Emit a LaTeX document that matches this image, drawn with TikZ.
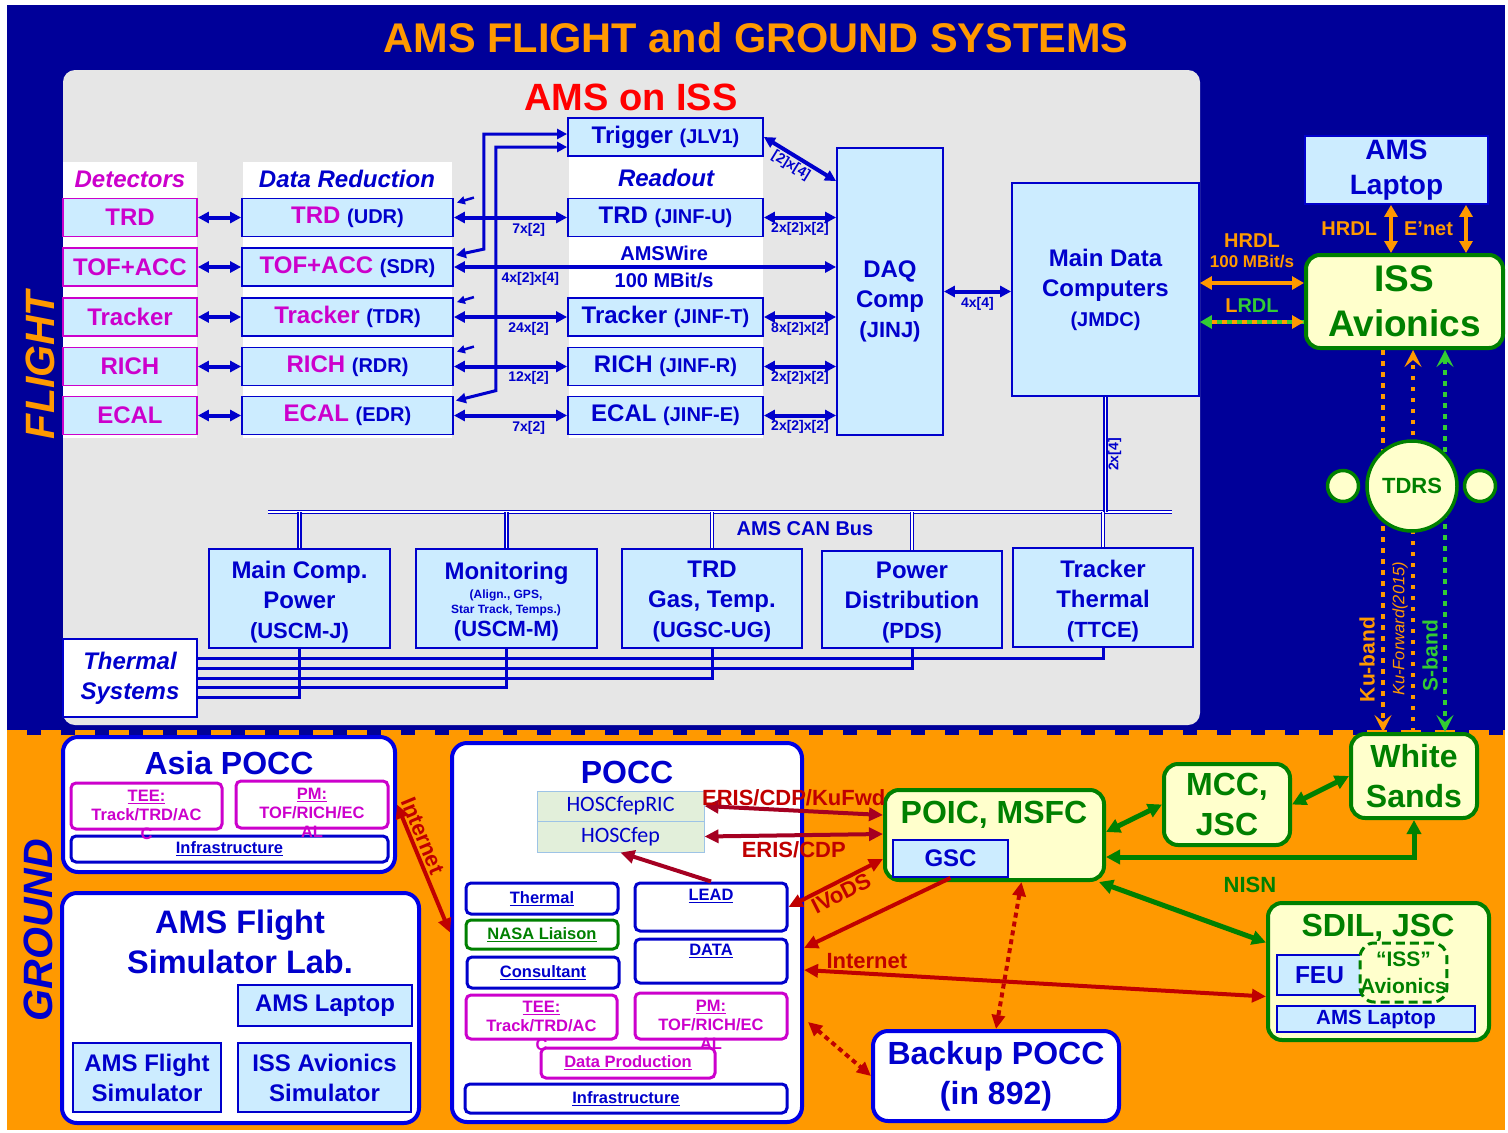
\documentclass[tikz,border=0pt]{standalone}
\usepackage{fontspec}
\setmainfont{Liberation Sans}
\newfontfamily\calfont{Carlito}
\usetikzlibrary{arrows.meta,calc,positioning}

\definecolor{bgblue}{HTML}{000099}
\definecolor{amsorange}{HTML}{FF9900}
\definecolor{panelgray}{HTML}{E6E6E6}
\definecolor{boxblue}{HTML}{CCECFF}
\definecolor{txtblue}{HTML}{0000CC}
\definecolor{gndblue}{HTML}{0000E6}
\definecolor{mag}{HTML}{CC00CC}
\definecolor{nasagreen}{HTML}{008000}
\definecolor{sgreen}{HTML}{33CC33}
\definecolor{paleyellow}{HTML}{FFFFCC}
\definecolor{linkred}{HTML}{C00000}
\definecolor{erisred}{HTML}{A50021}
\definecolor{hoscfill}{HTML}{E2EFDA}
\definecolor{hoscline}{HTML}{9DC3E6}

\newcommand{\fsz}[2]{\fontsize{#1}{#2}\selectfont}

\begin{document}
\begin{tikzpicture}[x=1pt,y=-1pt,
  sz/.style 2 args={minimum width=#1pt, minimum height=#2pt},
  flbox/.style={draw=txtblue, line width=1.8pt, fill=boxblue, text=txtblue,
    font=\bfseries\fsz{24}{30}, align=center, inner sep=0pt},
  detbox/.style={flbox, draw=mag, text=mag},
  hdr/.style={font=\bfseries\itshape\fsz{24}{29}, text=txtblue},
  numlbl/.style={font=\bfseries\fsz{14}{16}, text=txtblue, inner sep=2pt},
  barr/.style={<->, >={Triangle[length=11pt,width=11pt]}, draw=txtblue, line width=4pt},
  tarr/.style={<->, >={Triangle[length=10pt,width=10pt]}, draw=txtblue, line width=3pt},
  sarr/.style={-{Triangle[length=8pt,width=8pt]}, draw=txtblue, line width=2.5pt},
  bus/.style={draw=txtblue, line width=1.2pt, double=white, double distance=1.8pt},
  tline/.style={draw=txtblue, line width=3pt},
  olbl/.style={font=\bfseries\fsz{20}{20}, text=amsorange, inner sep=2pt},
  oarr/.style={<->, >={Triangle[length=12pt,width=13pt]}, draw=amsorange, line width=4pt},
  kuline/.style={line width=4.5pt, dash pattern=on 4.5pt off 6.5pt},
  kutip/.style={>={Stealth[length=17pt,width=17pt,inset=7pt]}},
  gbox/.style={draw=gndblue, line width=4pt, fill=white, rounded corners=15pt,
    text=txtblue, align=center, inner sep=0pt},
  ybox/.style={draw=nasagreen, line width=4pt, fill=paleyellow, rounded corners=14pt,
    text=nasagreen, align=center, inner sep=0pt, font=\bfseries\fsz{32}{40}},
  gtitle/.style={font=\bfseries\fsz{32.5}{40}, text=txtblue, align=center},
  ytitle/.style={font=\bfseries\fsz{32}{40}, text=nasagreen},
  pbox/.style={draw=txtblue, line width=3pt, fill=white, rounded corners=5pt,
    text=txtblue, font=\bfseries\fsz{16.5}{19}, inner sep=0pt},
  teebox/.style={pbox, draw=mag, text=mag},
  teetxt/.style={font=\bfseries\fsz{16.5}{19}, text=mag, align=center, inner sep=0pt},
  plbl/.style={font=\bfseries\fsz{16.5}{19}, text=txtblue},
  hoscbox/.style={draw=hoscline, line width=1pt, fill=hoscfill, text=txtblue,
    font=\calfont\fsz{22}{26}, inner sep=0pt},
  rlbl/.style={font=\bfseries\fsz{22}{24}, text=linkred, inner sep=2pt},
  rarr/.style={<->, >={Triangle[length=14pt,width=13pt]}, draw=linkred, line width=4pt},
  earr/.style={rarr, draw=erisred},
  rdot/.style={rarr, dash pattern=on 5pt off 4pt},
  garr/.style={<->, >={Triangle[length=14pt,width=14pt]}, draw=nasagreen, line width=5pt},
  glbl/.style={font=\bfseries\fsz{22}{24}, text=nasagreen},
  sat/.style={circle, draw=nasagreen, line width=3.5pt, fill=paleyellow, inner sep=0pt}
]
\useasboundingbox (0,0) rectangle (1508,1133);

% background
\fill[bgblue] (7,5) rectangle (1505,735);
\fill[amsorange] (7,735) rectangle (1505,1130);
\draw[amsorange, line width=5pt, dash pattern=on 20pt off 14pt] (7,732.5) -- (1505,732.5);
\fill[panelgray, rounded corners=12pt] (63,70) rectangle (1200,725);

\node[font=\bfseries\fsz{41.5}{41.5}, text=amsorange] (title) at (756,38) {AMS FLIGHT and GROUND SYSTEMS};
\node[font=\bfseries\fsz{38}{38}, text=red] (amsiss) at (631,97) {AMS on ISS};
\node[rotate=90, font=\bfseries\itshape\fsz{41}{41}, text=amsorange] (flight) at (40,365) {FLIGHT};
\node[rotate=90, font=\bfseries\itshape\fsz{41}{41}, text=txtblue] (ground) at (38,930) {GROUND};

% flight: columns
\fill[white] (63,162) rectangle (197,438);
\fill[white] (243,162) rectangle (452,438);
\fill[white] (569,157) rectangle (763,438);
\node[hdr, text=mag] (hdet) at (130,179) {Detectors};
\node[hdr] (hred) at (347,179) {Data Reduction};
\node[hdr] (hro) at (666,178) {Readout};

\foreach \n/\t/\s/\y in {trd/TRD/UDR/217.5, tof/TOF+ACC/SDR/267, trk/Tracker/TDR/317,
    rich/RICH/RDR/366.5, ecal/ECAL/EDR/415.5} {
  \node[detbox, sz={134}{38}] (d\n) at (130,\y) {\t};
  \node[flbox, sz={211}{38}] (r\n) at (347.5,\y) {\textcolor{mag}{\t} {\fsz{20}{24}(\s)}};
}
\foreach \n/\t/\s/\y in {trd/TRD/U/217.5, trk/Tracker/T/317, rich/RICH/R/366.5, ecal/ECAL/E/415.5}
  \node[flbox, sz={195}{38}] (o\n) at (665.5,\y) {\t{} {\fsz{20}{24}(JINF-\s)}};
\node[flbox, sz={195}{38}] (trig) at (665.5,137) {Trigger {\fsz{20}{24}(JLV1)}};

\node[flbox, sz={106}{287}] (daq) at (890,291.5) {};
\node[align=center, text=txtblue, font=\bfseries\fsz{24}{30}] (daqtxt) at (890,301) {DAQ\\Comp\\{\fsz{22}{28}(JINJ)}};
\node[flbox, sz={187}{213}] (jmdc) at (1105.5,289.5) {Main Data\\Computers\\{\fsz{20}{26}(JMDC)}};

% slow control boxes
\node[flbox, sz={181}{99}] (mcp) at (299.5,598.5) {};
\node[align=center, text=txtblue, font=\bfseries\fsz{24}{30}] (mcpt) at (299.5,602) {Main Comp.\\Power\\{\fsz{22}{26}(USCM-J)}};
\node[flbox, sz={181}{99}] (mon) at (506.5,598.5) {};
\node[align=center, text=txtblue, font=\bfseries\fsz{24}{30}] (mont) at (506.5,602) {Monitoring\\[27pt]{\fsz{22}{26}(USCM-M)}};
\node[font=\bfseries\fsz{12}{15}, text=txtblue, align=center] (monsub) at (506,603) {(Align., GPS,\\Star Track, Temps.)};
\node[flbox, sz={180}{99}] (trdg) at (712,598.5) {};
\node[align=center, text=txtblue, font=\bfseries\fsz{24}{30}] (trdgt) at (712,602) {TRD\\Gas, Temp.\\{\fsz{22}{26}(UGSC-UG)}};
\node[flbox, sz={180}{97}] (pds) at (912,599.5) {};
\node[align=center, text=txtblue, font=\bfseries\fsz{24}{30}] (pdst) at (912,603) {Power\\Distribution\\{\fsz{22}{26}(PDS)}};
\node[flbox, sz={180}{99}] (ttce) at (1103,597.5) {};
\node[align=center, text=txtblue, font=\bfseries\fsz{24}{30}] (ttcet) at (1103,601) {Tracker\\Thermal\\{\fsz{22}{26}(TTCE)}};
\node[flbox, fill=white, sz={134}{78}, font=\bfseries\itshape\fsz{24}{30}] (therm) at (130,678) {Thermal\\Systems};

% CAN bus
\coordinate (busl) at (268,512);
\coordinate (busr) at (1172,512);
\draw[bus] (busl) -- (busr);
\foreach \b in {mcp,mon,trdg,pds,ttce}
  \draw[bus] (\b.north) -- (\b.north |- busl);
\draw[bus] (jmdc.south) -- (jmdc.south |- busl) node[midway, rotate=90, anchor=north, numlbl] {2x[4]};
\node[font=\bfseries\fsz{20}{22}, text=txtblue] (canlbl) at (805,529) {AMS CAN Bus};

% thermal lines
\draw[tline] (ttce.south) |- ($(therm.north east)+(0,20)$);
\draw[tline] (pds.south) |- ($(therm.north east)+(0,30)$);
\draw[tline] (trdg.south) |- ($(therm.north east)+(0,40)$);
\draw[tline] (mon.south) |- ($(therm.north east)+(0,49.5)$);
\draw[tline] (mcp.south) |- ($(therm.north east)+(0,59)$);

% flight links
\foreach \n in {trd,tof,trk,rich,ecal}
  \draw[barr] (d\n) -- (r\n);
\draw[barr] (rtrd.east) -- (rtrd.east -| otrd.west) node[pos=0.66, below=2pt, numlbl] {7x[2]};
\draw[barr] (rtrk.east) -- (rtrk.east -| otrk.west) node[pos=0.66, below=1pt, numlbl] {24x[2]};
\draw[barr] (rrich.east) -- (rrich.east -| orich.west) node[pos=0.66, below=1pt, numlbl] {12x[2]};
\draw[barr] (recal.east) -- (recal.east -| oecal.west) node[pos=0.66, below=2pt, numlbl] {7x[2]};
\draw[barr] (rtof.east) -- (rtof.east -| daq.west)
  node[pos=0.2, below=1pt, numlbl] {4x[2]x[4]}
  node[pos=0.55, above=1pt, font=\bfseries\fsz{20}{22}, text=txtblue] {AMSWire}
  node[pos=0.55, below=1pt, font=\bfseries\fsz{20}{22}, text=txtblue] {100 MBit/s};
\foreach \n/\l in {trd/2x[2]x[2], trk/8x[2]x[2], rich/2x[2]x[2], ecal/2x[2]x[2]}
  \draw[barr] (o\n.east) -- (o\n.east -| daq.west) node[midway, below=1pt, numlbl] {\l};
\draw[barr] (trig.east) -- ($(daq.north west)+(0,34)$) node[pos=0.45, sloped, below, numlbl] {[2]x[4]};
\draw[barr] (daq.east) -- (daq.east -| jmdc.west) node[midway, below=2pt, numlbl] {4x[4]};
\draw[tarr] ($(rtof.north east)+(2,8)$) -- ++(28,-6) |- ($(trig.west)+(0,-3)$);
\draw[tarr] ($(recal.north east)+(2,5)$) -- ++(40,-10) |- ($(trig.west)+(0,10)$);
\foreach \n in {trd,trk,rich}
  \draw[sarr] ($(r\n.north east)+(20,0)$) -- ($(r\n.north east)+(3,5)$);

% ISS side
\node[flbox, sz={183}{68}, font=\bfseries\fsz{28}{35}] (lap) at (1396.5,170) {AMS\\Laptop};
\node[ybox, sz={197}{93}, font=\bfseries\fsz{37}{45}] (issav) at (1404.5,301.5) {ISS\\Avionics};
\coordinate (en1) at ($(lap.south)+(-5.5,0)$);
\coordinate (en2) at ($(lap.south)+(69.5,0)$);
\draw[oarr] (en1) -- (en1 |- issav.north) node[midway, left=10pt, olbl] {HRDL};
\draw[oarr] (en2) -- (en2 |- issav.north) node[midway, left=9pt, olbl] {E’net};
\coordinate (hr) at ($(issav.west)+(0,-18.5)$);
\draw[oarr] (hr -| jmdc.east) -- (hr) node[midway, above=11pt, olbl, align=center] {HRDL\\{\fsz{17}{20}100 MBit/s}};
\coordinate (lr) at ($(issav.west)+(0,20.5)$);
\draw[sgreen, line width=4pt, {Triangle[length=12pt,width=13pt]}-] (lr -| jmdc.east) -- (lr);
\draw[amsorange, line width=4pt, dash pattern=on 5pt off 5pt, shorten <=12pt, -{Triangle[length=12pt,width=13pt]}]
  (lr -| jmdc.east) -- (lr) node[midway, above=6pt, olbl] {L\textcolor{sgreen}{RDL}};

% ground
\node[gbox, sz={332}{135}] (asia) at (229,804.5) {};
\node[gtitle, font=\bfseries\fsz{32}{40}] (asiat) at (229,763) {Asia POCC};
\node[pbox, sz={317}{26}] (ainf) at (229.5,849) {\underline{Infrastructure}};
\node[teebox, sz={151}{46}] (atee) at (146.5,806) {};
\node[teetxt] (ateet) at (146.5,815) {\underline{TEE:}\\Track/TRD/AC\\C};
\node[teebox, sz={152}{47}] (apm) at (312,804.5) {};
\node[teetxt] (apmt) at (312,813) {\underline{PM:}\\TOF/RICH/EC\\AL};

\node[gbox, sz={357}{230}] (slab) at (240.5,1008) {};
\node[gtitle] (slabt) at (240,942) {AMS Flight\\Simulator Lab.};
\node[flbox, sz={174}{41}] (slap) at (325,1005.5) {AMS Laptop};
\node[flbox, sz={148}{69}] (sams) at (147,1077.5) {AMS Flight\\Simulator};
\node[flbox, sz={173}{69}] (siss) at (324.5,1077.5) {ISS Avionics\\Simulator};

\node[gbox, sz={350}{379}] (pocc) at (627,932.5) {};
\node[gtitle, font=\bfseries\fsz{32}{40}] (pocct) at (627,772) {POCC};
\node[hoscbox, sz={167}{30}] (hoscric) at (620.5,806) {HOSCfepRIC};
\node[hoscbox, sz={167}{31}] (hosc) at (620.5,836.5) {HOSCfep};
\node[pbox, sz={152}{31}] (pther) at (542,898.5) {\underline{Thermal}};
\node[pbox, sz={152}{29}, draw=nasagreen, text=nasagreen] (pnasa) at (542,934.5) {\underline{NASA Liaison}};
\node[pbox, sz={152}{31}] (pcons) at (543,972.5) {\underline{Consultant}};
\node[pbox, sz={152}{48}] (plead) at (711,907) {};
\node[plbl] (pleadt) at (711,896) {\underline{LEAD}};
\node[pbox, sz={152}{44}] (pdata) at (711,961) {};
\node[plbl] (pdatat) at (711,951) {\underline{DATA}};
\node[teebox, sz={174}{30}] (pdprod) at (628,1063) {\underline{Data Production}};
\node[teebox, sz={151}{44}] (ptee) at (541.5,1017) {};
\node[teetxt] (pteet) at (541.5,1026) {\underline{TEE:}\\Track/TRD/AC\\C};
\node[teebox, sz={152}{46}] (ppm) at (711,1016) {};
\node[teetxt] (ppmt) at (711,1025) {\underline{PM:}\\TOF/RICH/EC\\AL};
\node[pbox, sz={322}{29}] (pinf) at (626,1098.5) {\underline{Infrastructure}};

\node[ybox, sz={219}{90}] (poic) at (994.5,835) {};
\node[ytitle] (poict) at (994,815) {POIC, MSFC};
\node[flbox, sz={115}{37}] (gsc) at (950.5,858.5) {GSC};
\node[ybox, sz={126}{81}] (mcc) at (1227,804.5) {MCC,\\JSC};
\node[ybox, sz={126}{84}] (ws) at (1414,776) {White\\Sands};
\node[ybox, sz={221}{137}] (sdil) at (1378.5,971.5) {};
\node[flbox, sz={85}{40}, font=\bfseries\fsz{24.5}{29}] (feu) at (1319.5,975) {FEU};
\node[ybox, sz={83}{59}, line width=3pt, dash pattern=on 9pt off 5pt, font=\bfseries\fsz{21}{27}] (sdav) at (1403.5,972.5) {“ISS”\\Avionics};
\node[ytitle] (sdilt) at (1378,928) {SDIL, JSC};
\node[flbox, sz={198}{26}, font=\bfseries\fsz{20.5}{24}] (sdlap) at (1376,1019) {AMS Laptop};
\node[gbox, sz={246}{90}, font=\bfseries\fsz{32}{40}] (bpocc) at (996,1076) {Backup POCC\\(in 892)};

% ground links
\draw[rarr] (asia.east) -- (pocc.west) node[pos=0.28, sloped, above, rlbl] {Internet};
\draw[earr] (hoscric.east) -- ($(poic.west)+(0,-20)$) node[midway, above=1pt, rlbl] {ERIS/CDP/KuFwd};
\draw[earr] (hosc.east) -- ($(poic.west)+(0,-1)$) node[midway, below=2pt, rlbl] {ERIS/CDP};
\draw[earr, ->] (plead.north) -- (hosc.south);
\draw[rarr] (plead.east) -- ($(poic.south west)+(0,-23)$) node[midway, sloped, below, rlbl] {IVoDS};
\draw[rarr, ->] (gsc.south) -- ($(pocc.east)+(0,15.5)$);
\draw[rarr] ($(pocc.east)+(0,37.5)$) -- ($(sdil.west)+(0,25)$) node[pos=0.136, above=1pt, rlbl] {Internet};
\draw[rdot] ($(pocc.south east)+(4,-102)$) -- (bpocc.west);
\draw[rdot] ($(poic.south)+(27,0)$) -- (bpocc.north);

\draw[garr] ($(poic.east)+(0,-3)$) -- (mcc.west);
\draw[garr] (mcc.east) -- (ws.west);
\draw[garr] (ws.south) |- ($(poic.east)+(0,22)$);
\draw[garr] ($(poic.south east)+(-7,0)$) -- ($(sdil.west)+(0,-29)$);
\node[glbl] (nisn) at (1250,885) {NISN};

% space links
\coordinate (ku1) at ($(issav.south)+(-21.5,0)$);
\coordinate (ku2) at ($(issav.south)+(8.5,0)$);
\coordinate (ku3) at ($(issav.south)+(40.5,0)$);
\draw[kuline, kutip, draw=amsorange, ->] (ku1) -- (ku1 |- ws.north)
  node[pos=0.81, rotate=90, anchor=south, inner sep=6pt, font=\bfseries\fsz{21}{21}, text=amsorange] {Ku-band};
\draw[kuline, kutip, draw=amsorange, ->] (ku2 |- ws.north) -- (ku2)
  node[pos=0.27, rotate=90, anchor=south, inner sep=3pt, font=\itshape\fsz{16.5}{18}, text=amsorange] {Ku-Forward(2015)};
\draw[kuline, kutip, draw=sgreen, <->] (ku3) -- (ku3 |- ws.north)
  node[pos=0.8, rotate=90, anchor=south, inner sep=5pt, font=\bfseries\fsz{21}{21}, text=sgreen] {S-band};
\node[sat, minimum size=90pt, font=\bfseries\fsz{22}{22}, text=nasagreen] (tdrs) at (1412,486) {TDRS};
\node[sat, minimum size=31pt] (tdrsl) at (1343,486) {};
\node[sat, minimum size=31pt] (tdrsr) at (1480,486) {};
\end{tikzpicture}
\end{document}
